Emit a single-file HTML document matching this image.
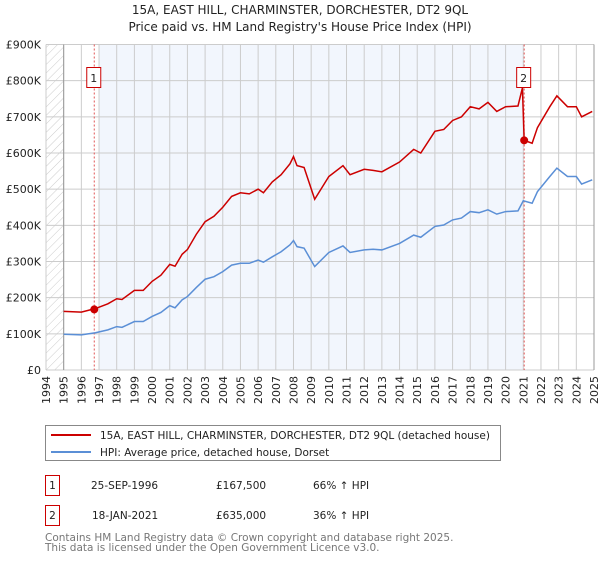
<!DOCTYPE html>
<html><head><meta charset="utf-8"><style>
body{margin:0;background:#fff;font-family:"Liberation Sans","DejaVu Sans",sans-serif;}
svg text{font-family:"DejaVu Sans","Liberation Sans",sans-serif;}
</style></head><body>
<svg id="chart" width="600" height="560" viewBox="0 0 600 560" xmlns="http://www.w3.org/2000/svg">
<defs><pattern id="hatch" width="6" height="6" patternUnits="userSpaceOnUse" patternTransform="rotate(45)"><line x1="0" y1="0" x2="0" y2="6" stroke="#ccc" stroke-width="1"/></pattern></defs>
<text x="300" y="14" font-size="12" text-anchor="middle" fill="#222">15A, EAST HILL, CHARMINSTER, DORCHESTER, DT2 9QL</text>
<text x="300" y="31" font-size="12" text-anchor="middle" fill="#222">Price paid vs. HM Land Registry's House Price Index (HPI)</text>
<g id="plot"></g>
<g>
<rect x="45.5" y="425.5" width="455" height="35" fill="#fff" stroke="#888"/>
<line x1="51" y1="435" x2="91" y2="435" stroke="#cc0000" stroke-width="2"/>
<text x="100" y="439" font-size="10.5" fill="#222">15A, EAST HILL, CHARMINSTER, DORCHESTER, DT2 9QL (detached house)</text>
<line x1="51" y1="452" x2="91" y2="452" stroke="#5b8fd6" stroke-width="2"/>
<text x="100" y="456" font-size="10.5" fill="#222">HPI: Average price, detached house, Dorset</text>
</g>
<g font-size="10.5" fill="#222">
<rect x="45.5" y="475.5" width="14" height="20" fill="#fff" stroke="#cc0000"/>
<text x="52.5" y="489" text-anchor="middle">1</text>
<text x="91" y="489">25-SEP-1996</text>
<text x="216" y="489">£167,500</text>
<text x="313" y="489">66% ↑ HPI</text>
<rect x="45.5" y="505.5" width="14" height="20" fill="#fff" stroke="#cc0000"/>
<text x="52.5" y="519" text-anchor="middle">2</text>
<text x="92" y="519">18-JAN-2021</text>
<text x="216" y="519">£635,000</text>
<text x="313" y="519">36% ↑ HPI</text>
</g>
<text x="45" y="541" font-size="10.5" fill="#777">Contains HM Land Registry data © Crown copyright and database right 2025.</text>
<text x="45" y="551" font-size="10.5" fill="#777">This data is licensed under the Open Government Licence v3.0.</text>
</svg>
<script>
const hpiYears=[1995.0,1996.0,1996.8,1997.5,1998.0,1998.3,1999.0,1999.5,2000.0,2000.5,2001.0,2001.3,2001.7,2002.0,2002.5,2003.0,2003.5,2004.0,2004.5,2005.0,2005.5,2006.0,2006.3,2006.8,2007.3,2007.8,2008.0,2008.2,2008.6,2009.2,2010.0,2010.8,2011.2,2012.0,2012.5,2013.0,2014.0,2014.8,2015.2,2016.0,2016.5,2017.0,2017.5,2018.0,2018.5,2019.0,2019.5,2020.0,2020.7,2021.0,2021.5,2021.8,2022.5,2022.9,2023.5,2024.0,2024.3,2024.9];
const hpiValues=[99,97,103,111,120,118,134,134,148,159,178,172,194,203,228,251,258,272,290,295,295,304,298,313,327,346,358,341,337,286,325,343,325,332,334,332,350,373,367,397,401,415,420,438,435,443,431,438,440,468,461,493,535,558,535,535,514,526];
const priceYears=[1995.0,1996.0,1996.8,1997.5,1998.0,1998.3,1999.0,1999.5,2000.0,2000.5,2001.0,2001.3,2001.7,2002.0,2002.5,2003.0,2003.5,2004.0,2004.5,2005.0,2005.5,2006.0,2006.3,2006.8,2007.3,2007.8,2008.0,2008.2,2008.6,2009.2,2010.0,2010.8,2011.2,2012.0,2012.5,2013.0,2014.0,2014.8,2015.2,2016.0,2016.5,2017.0,2017.5,2018.0,2018.5,2019.0,2019.5,2020.0,2020.7,2020.95,2021.05,2021.5,2021.8,2022.5,2022.9,2023.5,2024.0,2024.3,2024.9];
const priceValues=[162,160,170,183,197,195,220,220,245,262,292,287,320,333,375,410,425,450,480,490,487,500,490,520,540,570,590,565,560,472,535,565,540,555,552,548,575,610,600,660,665,690,700,728,722,740,715,728,730,780,635,627,670,728,758,728,728,700,715];
const saleYears=[1996.73,2021.05];
const saleValues=[167.5,635];
const saleLabels=["1","2"];
const yTicks=[0,100,200,300,400,500,600,700,800,900];
const yTickLabels=["£0","£100K","£200K","£300K","£400K","£500K","£600K","£700K","£800K","£900K"];
const xTicks=[1994,1995,1996,1997,1998,1999,2000,2001,2002,2003,2004,2005,2006,2007,2008,2009,2010,2011,2012,2013,2014,2015,2016,2017,2018,2019,2020,2021,2022,2023,2024,2025];

const X0=46,X1=594,Y0=370,Y1=44.5,Y_MIN=1994,Y_MAX=2025;
const xs=y=>X0+(y-Y_MIN)/(Y_MAX-Y_MIN)*(X1-X0);
const ys=v=>Y0-v/900*(Y0-Y1);
const NS="http://www.w3.org/2000/svg";
const plot=document.getElementById('plot');
function mk(tag,attrs,parent){const e=document.createElementNS(NS,tag);for(const k in attrs)e.setAttribute(k,attrs[k]);(parent||plot).appendChild(e);return e;}

let r=mk('rect',{x:X0,y:Y1,width:X1-X0,height:Y0-Y1,fill:'#fff'});


r=mk('rect',{x:X0,y:Y1,width:xs(1995)-X0,height:Y0-Y1,fill:'url(#hatch)'});


r=mk('rect',{x:xs(1997),y:Y1,width:xs(saleYears[1])-xs(1997),height:Y0-Y1,fill:'#f2f6fd'});



xTicks.forEach((t,i)=>{
  const l=mk('line',{x1:xs(t),x2:xs(t),y1:Y1,y2:Y0,stroke:'#ccc','stroke-width':1});
  
  
  const tx=mk('text',{x:0,y:0,'font-size':11,fill:'#222','text-anchor':'end',transform:`translate(${xs(t)+4},${Y0+6}) rotate(-90)`});
  tx.textContent=t;
  
  
});
yTicks.forEach((t,i)=>{
  const l=mk('line',{x1:X0,x2:X1,y1:ys(t),y2:ys(t),stroke:'#ccc','stroke-width':1});
  
  
  const tx=mk('text',{x:41,y:ys(t)+4,'font-size':11,fill:'#222','text-anchor':'end'});
  tx.textContent=yTickLabels[i];
  
  
});
let ax=mk('line',{x1:xs(1995),x2:xs(1995),y1:Y1,y2:Y0,stroke:'#999'});


ax=mk('line',{x1:xs(2025),x2:xs(2025),y1:Y1,y2:Y0,stroke:'#999'});



saleYears.forEach((y,i)=>{
  const l=mk('line',{x1:xs(y),x2:xs(y),y1:Y1,y2:Y0,stroke:'#e05555','stroke-dasharray':'2,2','stroke-width':1});
  
  
});

let p=mk('polyline',{points:hpiYears.map((y,i)=>xs(y)+','+ys(hpiValues[i])).join(' '),fill:'none',stroke:'#5b8fd6','stroke-width':1.5});


p=mk('polyline',{points:priceYears.map((y,i)=>xs(y)+','+ys(priceValues[i])).join(' '),fill:'none',stroke:'#cc0000','stroke-width':1.5});



saleYears.forEach((y,i)=>{
  const c=mk('circle',{cx:xs(y),cy:ys(saleValues[i]),r:4,fill:'#cc0000'});
  
  
  const b=mk('rect',{x:xs(y)-7.5,y:67.5,width:14,height:20,fill:'#fff',stroke:'#cc0000'});
  
  
  const t=mk('text',{x:xs(y)-0.5,y:82,'font-size':11,'text-anchor':'middle',fill:'#222'});
  t.textContent=saleLabels[i];
  
  
});
</script>
</body></html>
